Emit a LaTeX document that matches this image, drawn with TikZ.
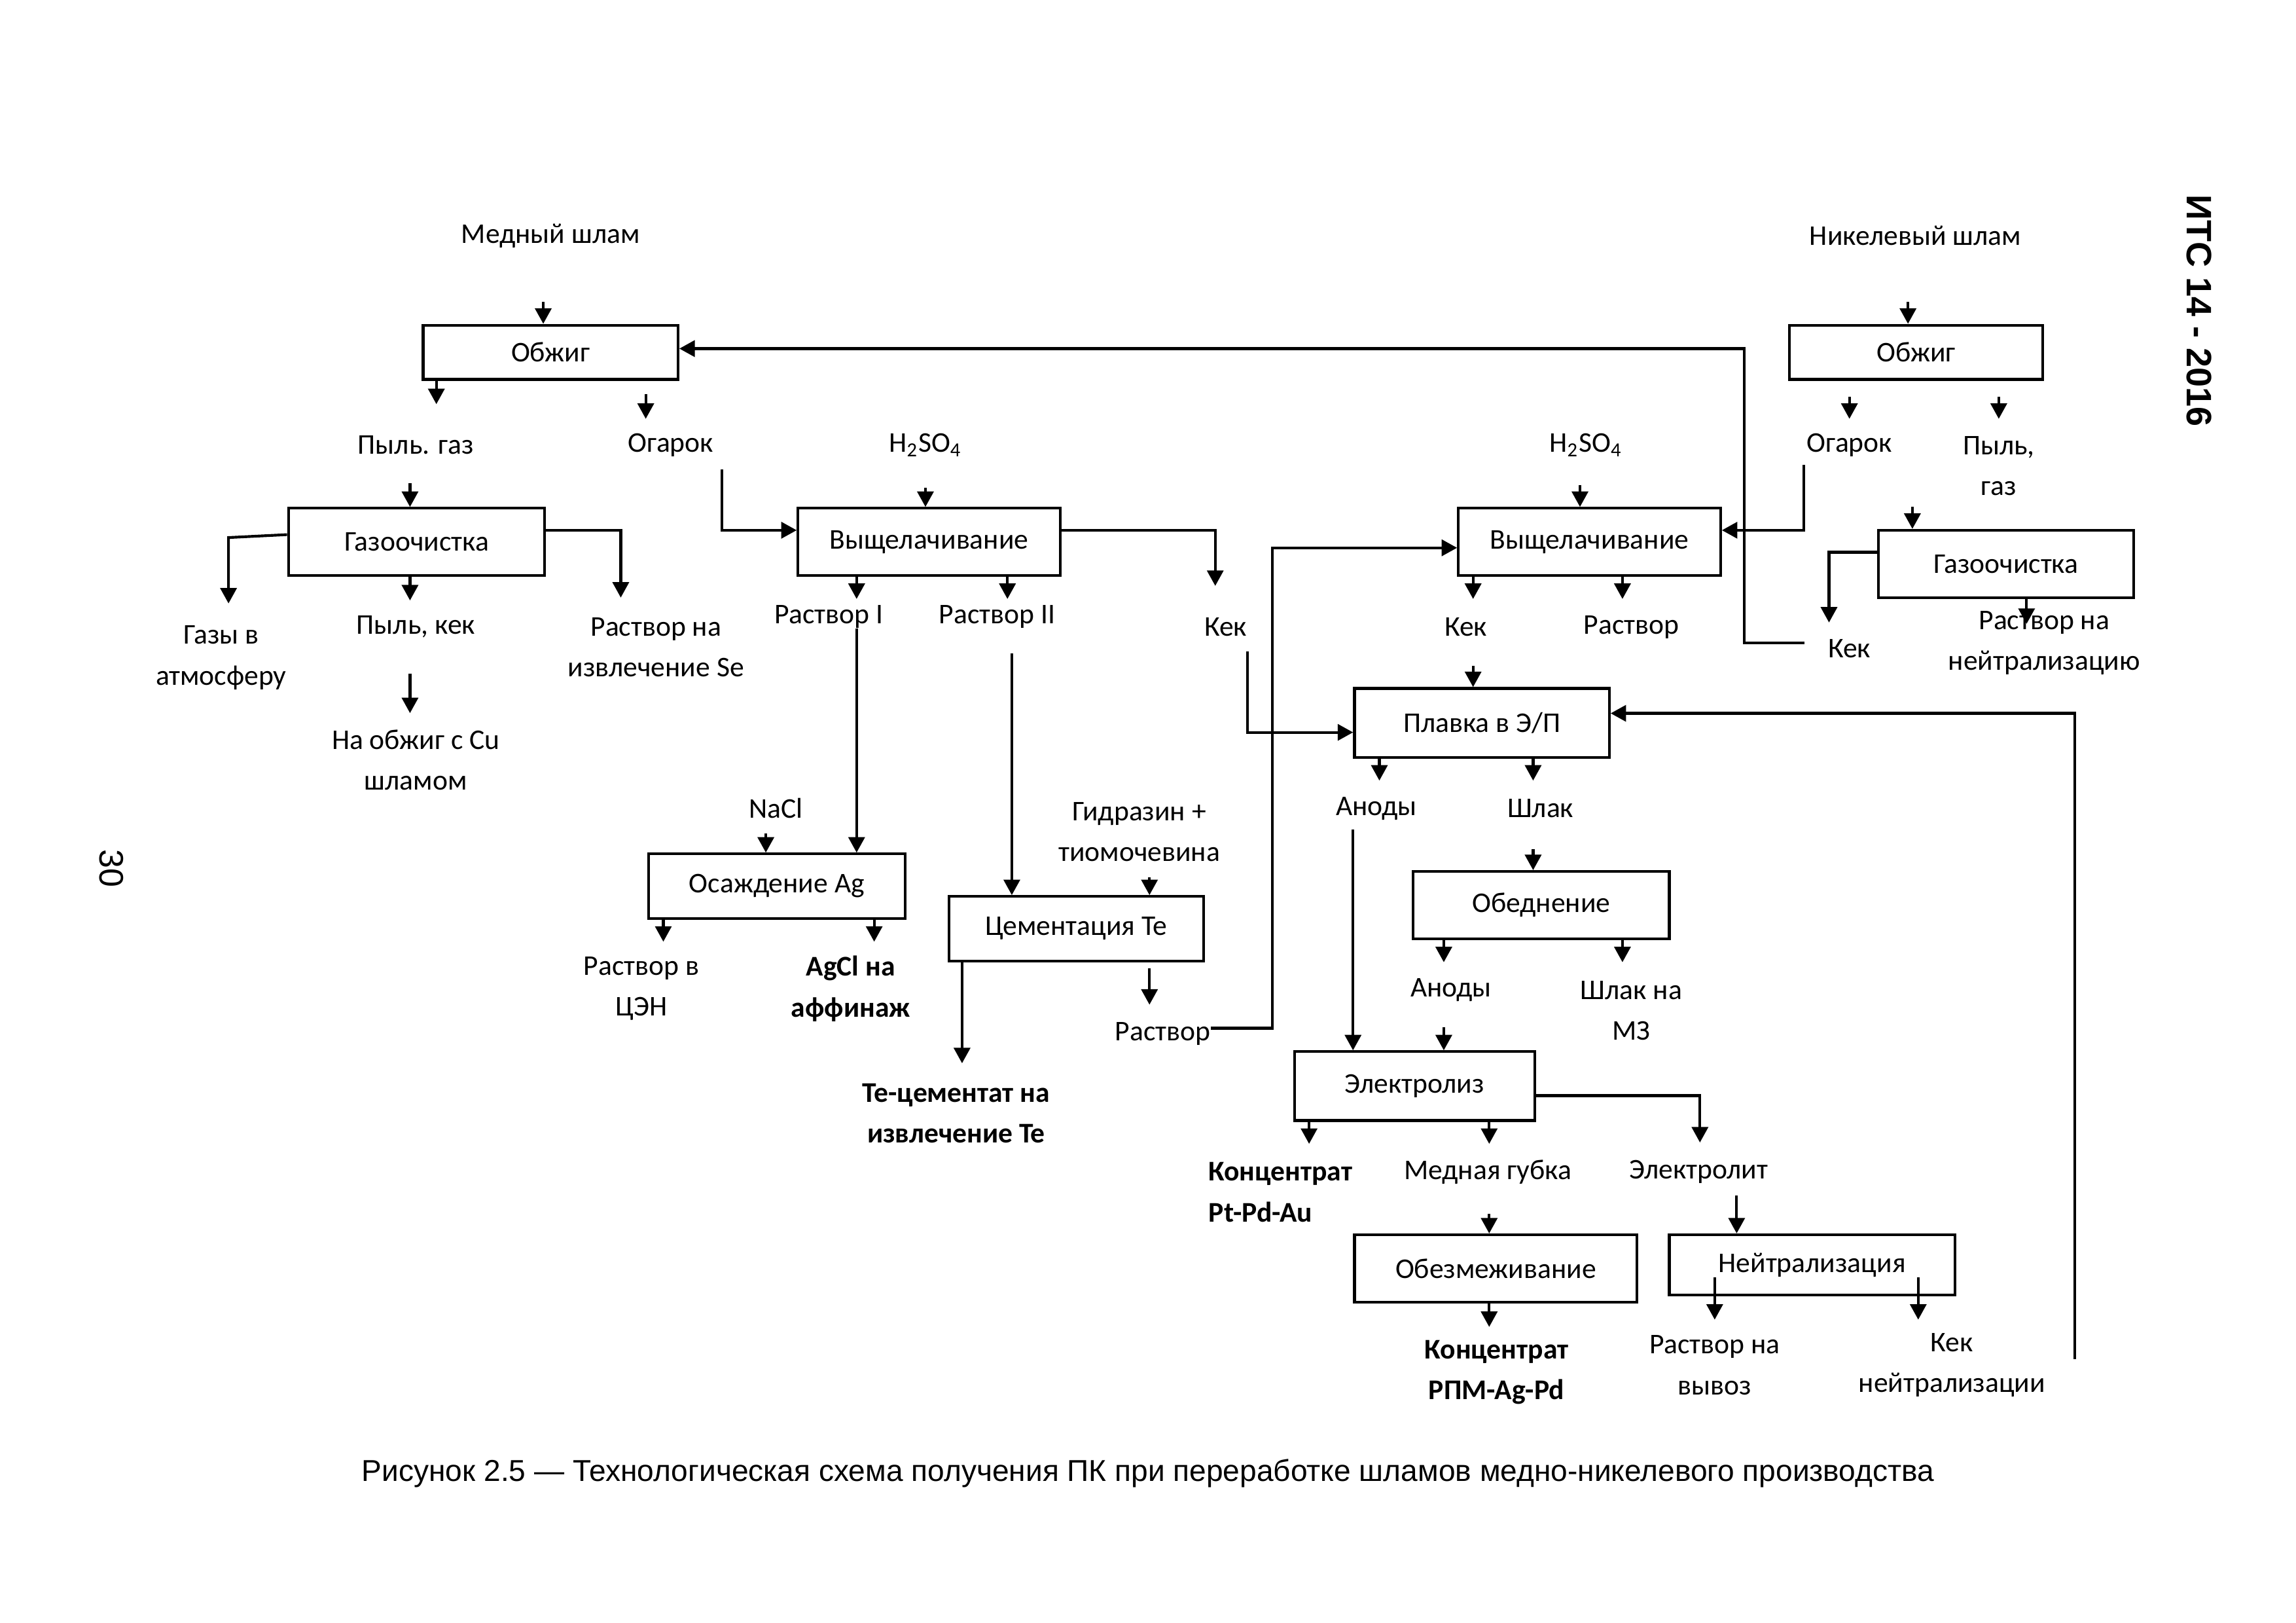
\documentclass[tikz,border=0pt]{standalone}
\usepackage{fontspec}
\setmainfont{Carlito}
\newfontfamily\arialfont{Liberation Sans}
\usetikzlibrary{arrows.meta}
\tikzset{
  box/.style={draw, line width=1pt, inner sep=0pt},
  lbl/.style={align=center, inner sep=0pt},
  boldlbl/.style={lbl, font=\fontsize{10.5}{15}\selectfont\bfseries},
  flow/.style={line width=1pt, -{Triangle[length=2mm,width=2.1mm]}}
}

\begin{document}
\begin{tikzpicture}[x=0.18941mm, y=-0.18941mm, every node/.style={font=\fontsize{10.5}{15}\selectfont}]
\useasboundingbox (0,0) rectangle (1568,1108);

% copper slime
\node[lbl] (cuSlime) at (376,161) {Медный шлам};
\node[box, minimum width=32.96mm, minimum height=7.01mm] (obzL) at (376,240.5) {Обжиг};
\draw[flow] (obzL.north -| 371,0) ++(0,-15) -- (obzL.north -| 371,0);
\node[lbl] (pylGaz) at (284,304) {Пыль. газ};
\node[lbl] (ogarL) at (458,304) {Огарок};
\draw[flow] (obzL.south -| 298,0) -- ++(0,16);
\draw[flow] (obzL.south -| 441,0) ++(0,9) -- ++(0,17);

\node[box, minimum width=33.15mm, minimum height=8.71mm] (gazL) at (284.5,370) {Газоочистка};
\draw[flow] (gazL.north -| 280,0) ++(0,-16) -- (gazL.north -| 280,0);
\node[lbl] (gasAtm) at (151,449) {Газы в\\атмосферу};
\node[lbl] (pylKek) at (284,428) {Пыль, кек};
\node[lbl] (rastSe) at (448,442) {Раствор на\\извлечение Se};
\node[lbl] (toObzh) at (284,519) {На обжиг с Cu\\шламом};
\draw[flow] (gazL.west |- 0,365) -- ++(-40,2) -- ++(0,45);
\draw[flow] (gazL.south -| 280,0) -- ++(0,16);
\draw[flow] (gazL.east |- 0,362) -| ++(51,46);
\draw[flow] (pylKek.south -| 280,0) ++(0,24) -- ++(0,27);

% leaching, copper side
\node[lbl] (h2so4L) at (632,304) {H\textsubscript{2}SO\textsubscript{4}};
\node[box, minimum width=33.9mm, minimum height=8.71mm] (leachL) at (634.5,370) {Выщелачивание};
\draw[flow] (leachL.north -| 632,0) ++(0,-13) -- (leachL.north -| 632,0);
\draw[flow] (ogarL.south -| 493,0) ++(0,8) |- (leachL.west |- 0,362);
\node[lbl] (kekL) at (837,428) {Кек};
\node[lbl] (rast1) at (566,421) {Раствор I};
\node[lbl] (rast2) at (681,421) {Раствор II};
\draw[flow] (leachL.east |- 0,362) -| ++(105,38);
\draw[flow] (leachL.south -| 585,0) -- ++(0,15);
\draw[flow] (leachL.south -| 688,0) -- ++(0,15);

\node[lbl] (nacl) at (530,552) {NaCl};
\node[box, minimum width=33.15mm, minimum height=8.33mm] (agBox) at (530.5,605) {Осаждение Ag};
\draw[flow] (rast1.south -| 585,0) -- (agBox.north -| 585,0);
\draw[flow] (agBox.north -| 523,0) ++(0,-13) -- (agBox.north -| 523,0);
\node[lbl] (rastCen) at (438,675) {Раствор в\\ЦЭН};
\node[boldlbl] (agcl) at (581,675) {AgCl на\\аффинаж};
\draw[flow] (agBox.south -| 453,0) -- ++(0,15);
\draw[flow] (agBox.south -| 597,0) -- ++(0,15);

\node[box, minimum width=32.96mm, minimum height=8.33mm] (cemBox) at (735,634) {Цементация Te};
\draw[flow] (rast2.south -| 691,0) ++(0,17) -- (cemBox.north -| 691,0);
\node[lbl] (hydr) at (778,568) {Гидразин +\\тиомочевина};
\draw[flow] (cemBox.north -| 785,0) ++(0,-12) -- (cemBox.north -| 785,0);
\node[boldlbl] (teCem) at (653,760) {Te-цементат на\\извлечение Te};
\draw[flow] (cemBox.south -| 657,0) -- ++(0,69);
\node[lbl] (rastCem) at (794,706) {Раствор};
\draw[flow] (cemBox.south -| 785,0) ++(0,4) -- ++(0,25);

% nickel slime
\node[lbl] (niSlime) at (1308,161) {Никелевый шлам};
\node[box, minimum width=32.77mm, minimum height=7.01mm] (obzR) at (1308.5,240.5) {Обжиг};
\draw[flow] (obzR.north -| 1303,0) ++(0,-15) -- (obzR.north -| 1303,0);
\node[lbl] (ogarR) at (1263,304) {Огарок};
\node[lbl] (pylGazR) at (1365,318) {Пыль,\\газ};
\draw[flow] (obzR.south -| 1263,0) ++(0,11) -- ++(0,15);
\draw[flow] (obzR.south -| 1365,0) ++(0,11) -- ++(0,15);

\node[lbl] (h2so4R) at (1083,304) {H\textsubscript{2}SO\textsubscript{4}};
\node[box, minimum width=33.9mm, minimum height=8.71mm] (leachR) at (1085.5,370) {Выщелачивание};
\draw[flow] (leachR.north -| 1079,0) ++(0,-15) -- (leachR.north -| 1079,0);
\draw[flow] (ogarR.south -| 1232,0) ++(0,5) |- (leachR.east |- 0,362);
\draw[flow] (rastCem.east |- 0,702) -- ++(42,0) |- (leachR.west |- 0,374);
\node[lbl] (kekR) at (1001,428) {Кек};
\node[lbl] (rastR) at (1114,428) {Раствор};
\draw[flow] (leachR.south -| 1006,0) -- ++(0,15);
\draw[flow] (leachR.south -| 1108,0) -- ++(0,15);

\node[box, minimum width=32.96mm, minimum height=8.71mm] (gazR) at (1370,385) {Газоочистка};
\draw[flow] (gazR.north -| 1306,0) ++(0,-15) -- (gazR.north -| 1306,0);
\node[lbl] (kekGazR) at (1263,443) {Кек};
\node[lbl] (rastNeutR) at (1396,439) {Раствор на\\нейтрализацию};
\draw[flow] (gazR.west |- 0,377) -| ++(-33,48);
\draw[flow] (gazR.south -| 1384,0) -- ++(0,17);
\draw[flow] (kekGazR.west |- 0,439) ++(-16,0) -- ++(-41,0) |- (obzL.east |- 0,238);

% smelting and electrolysis
\node[box, minimum width=32.96mm, minimum height=8.9mm] (smelt) at (1012,493.5) {Плавка в Э/П};
\draw[flow] (kekL.south -| 852,0) ++(0,10) |- (smelt.west |- 0,500);
\draw[flow] (kekR.south -| 1006,0) ++(0,20) -- (smelt.north -| 1006,0);
\coordinate (retEnd) at (1417,928);
\draw[flow] (retEnd) |- (smelt.east |- 0,487);
\node[lbl] (anody1) at (940,552) {Аноды};
\node[lbl] (shlak) at (1052,552) {Шлак};
\draw[flow] (smelt.south -| 942,0) -- ++(0,15);
\draw[flow] (smelt.south -| 1047,0) -- ++(0,15);

\node[box, minimum width=33.15mm, minimum height=8.71mm] (poor) at (1052.5,618) {Обеднение};
\draw[flow] (shlak.south -| 1047,0) ++(0,21) -- (poor.north -| 1047,0);
\node[lbl] (anody2) at (991,676) {Аноды};
\node[lbl] (shlakMz) at (1114,690) {Шлак на\\МЗ};
\draw[flow] (poor.south -| 986,0) -- ++(0,15);
\draw[flow] (poor.south -| 1108,0) -- ++(0,15);

\node[box, minimum width=31.06mm, minimum height=8.9mm] (elec) at (966,741.5) {Электролиз};
\draw[flow] (anody1.south -| 924,0) ++(0,6) -- (elec.north -| 924,0);
\draw[flow] (anody2.south -| 986,0) ++(0,17) -- (elec.north -| 986,0);
\node[boldlbl, align=left, anchor=west] (concPt) at (825,814) {Концентрат\\Pt-Pd-Au};
\node[lbl] (cuSponge) at (1016,800) {Медная губка};
\node[lbl] (electrolyte) at (1160,800) {Электролит};
\draw[flow] (elec.south -| 894,0) -- ++(0,15);
\draw[flow] (elec.south -| 1017,0) -- ++(0,15);
\draw[flow] (elec.east |- 0,748) -| ++(112,32);

\node[box, minimum width=36.56mm, minimum height=8.71mm] (demet) at (1021.5,866) {Обезмеживание};
\draw[flow] (cuSponge.south -| 1017,0) ++(0,20) -- (demet.north -| 1017,0);
\node[box, minimum width=36.93mm, minimum height=7.77mm] (neut) at (1237.5,863.5) {Нейтрализация};
\draw[flow] (electrolyte.south -| 1186,0) ++(0,8) -- (neut.north -| 1186,0);
\node[boldlbl] (concRpm) at (1022,937) {Концентрат\\РПМ-Ag-Pd};
\draw[flow] (demet.south -| 1017,0) -- ++(0,16);
\node[lbl] (rastVyvoz) at (1171,932) {Раствор на\\вывоз};
\node[lbl] (kekNeut) at (1333,932) {Кек\\нейтрализации};
\draw[flow] (neut.south -| 1171,0) ++(0,-13) -- ++(0,29);
\draw[flow] (neut.south -| 1310,0) ++(0,-13) -- ++(0,29);

% page furniture
\node[font=\arialfont\fontsize{11.1}{13}\selectfont] (caption) at (784,1006) {Рисунок 2.5 — Технологическая схема получения ПК при переработке шламов медно-никелевого производства};
\node[rotate=-90, font=\arialfont\bfseries\fontsize{13}{15}\selectfont] (docId) at (1502,212) {ИТС 14 - 2016};
\node[rotate=-90, font=\arialfont\fontsize{12.5}{14}\selectfont] (pageNo) at (76,593) {30};
\end{tikzpicture}
\end{document}
